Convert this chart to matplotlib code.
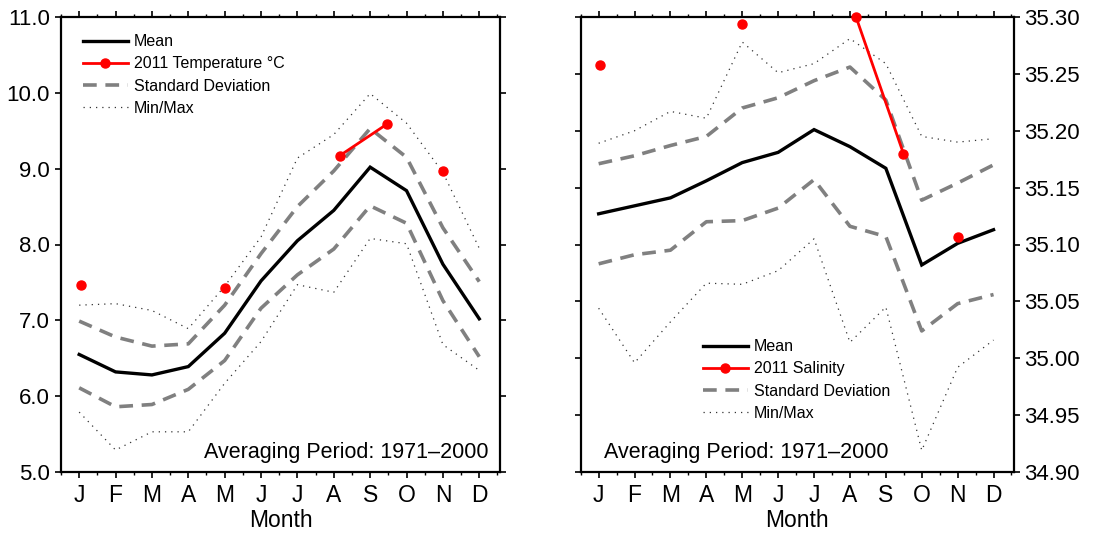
import matplotlib
matplotlib.use("Agg")
import matplotlib.pyplot as plt
from matplotlib.ticker import MultipleLocator, FormatStrFormatter

plt.rcParams['font.family'] = ['Liberation Sans', 'DejaVu Sans']

months = list(range(1, 13))
month_labels = ['J', 'F', 'M', 'A', 'M', 'J', 'J', 'A', 'S', 'O', 'N', 'D']

# Temperature (left panel)
temp_mean = [6.55, 6.32, 6.28, 6.39, 6.83, 7.52, 8.05, 8.45, 9.02, 8.71, 7.74, 7.02]
temp_sd_upper = [6.99, 6.78, 6.66, 6.69, 7.20, 7.88, 8.50, 8.97, 9.53, 9.15, 8.22, 7.51]
temp_sd_lower = [6.11, 5.86, 5.89, 6.09, 6.47, 7.16, 7.60, 7.94, 8.51, 8.28, 7.26, 6.52]
temp_max = [7.20, 7.22, 7.13, 6.89, 7.45, 8.10, 9.14, 9.45, 9.99, 9.60, 8.95, 7.95]
temp_min = [5.79, 5.29, 5.53, 5.53, 6.17, 6.72, 7.47, 7.37, 8.08, 8.01, 6.68, 6.34]
temp_2011_x = [1.05, 5.0, 8.16, 9.47, 11.0]
temp_2011 = [7.47, 7.42, 9.17, 9.59, 8.97]

# Salinity (right panel)
sal_mean = [35.127, 35.134, 35.141, 35.156, 35.172, 35.181, 35.201, 35.186, 35.167, 35.082, 35.101, 35.113]
sal_sd_upper = [35.171, 35.178, 35.187, 35.195, 35.220, 35.229, 35.244, 35.256, 35.227, 35.139, 35.154, 35.170]
sal_sd_lower = [35.083, 35.091, 35.095, 35.120, 35.121, 35.132, 35.157, 35.116, 35.107, 35.024, 35.048, 35.056]
sal_max = [35.189, 35.200, 35.217, 35.211, 35.278, 35.251, 35.259, 35.281, 35.259, 35.195, 35.190, 35.193]
sal_min = [35.044, 34.996, 35.032, 35.066, 35.065, 35.077, 35.105, 35.014, 35.045, 34.919, 34.992, 35.016]
sal_2011_x = [1.05, 5.0, 8.17, 9.49, 11.0]
sal_2011 = [35.258, 35.294, 35.300, 35.180, 35.107]

W, H = 1103, 534
fig = plt.figure(figsize=(W / 100, H / 100), dpi=100)

axL = fig.add_axes([61 / W, 1 - 472 / H, 439 / W, 455 / H])
axR = fig.add_axes([580.7 / W, 1 - 472 / H, 433.3 / W, 455 / H])

def split_runs(xs, ys):
    # observations in consecutive months are joined by a line
    runs, cur = [], [(xs[0], ys[0])]
    for x, y in zip(xs[1:], ys[1:]):
        if int(x) - int(cur[-1][0]) == 1:
            cur.append((x, y))
        else:
            runs.append(cur)
            cur = [(x, y)]
    runs.append(cur)
    return runs

DOT = (0, (1, 4))

def draw(ax, mean, up, lo, mx, mn, rx, ry, obs_label):
    ax.plot(months, mx, color='#333333', lw=0.9, linestyle=DOT)
    ax.plot(months, mn, color='#333333', lw=0.9, linestyle=DOT)
    ax.plot(months, up, color='#808080', lw=2.6, dashes=(3.8, 2.4))
    ax.plot(months, lo, color='#808080', lw=2.6, dashes=(3.8, 2.4))
    ax.plot(months, mean, color='black', lw=2.4, solid_joinstyle='miter')
    for run in split_runs(rx, ry):
        xs = [p[0] for p in run]
        ys = [p[1] for p in run]
        ax.plot(xs, ys, color='red', lw=2.0, marker='o', markersize=6.5,
                clip_on=False, zorder=5)
    h1, = ax.plot([], [], color='black', lw=2.4)
    h2, = ax.plot([], [], color='red', lw=2.0, marker='o', markersize=6.5)
    h3, = ax.plot([], [], color='#808080', lw=2.6, dashes=(3.8, 2.4))
    h4, = ax.plot([], [], color='#333333', lw=0.9, linestyle=DOT)
    return [h1, h2, h3, h4], ['Mean', obs_label, 'Standard Deviation', 'Min/Max']

def style(ax):
    ax.set_xlim(0.5, 12.57)
    ax.set_xticks(months)
    ax.set_xticklabels(month_labels)
    ax.xaxis.set_minor_locator(MultipleLocator(0.5))
    ax.tick_params(axis='x', which='both', top=True, bottom=True, direction='out')
    ax.tick_params(axis='y', which='both', left=True, right=True, direction='out')
    ax.tick_params(which='major', length=4, width=1.2, labelsize=16)
    ax.tick_params(which='minor', length=2.2, width=1.0)
    ax.tick_params(axis='x', which='major', pad=5, labelsize=16.5)
    for s in ax.spines.values():
        s.set_linewidth(1.6)
    ax.set_xlabel('Month', fontsize=16.5, labelpad=1)

LEG = dict(frameon=False, fontsize=11.5, handlelength=2.85, handletextpad=0.35,
           labelspacing=0.45, borderpad=0, borderaxespad=0, loc='upper left')

handles, labels = draw(axL, temp_mean, temp_sd_upper, temp_sd_lower, temp_max, temp_min,
                       temp_2011_x, temp_2011, '2011 Temperature \u00b0C')
style(axL)
axL.set_ylim(5.0, 11.0)
axL.yaxis.set_major_locator(MultipleLocator(1.0))
axL.yaxis.set_major_formatter(FormatStrFormatter('%.1f'))
axL.tick_params(axis='y', which='major', pad=4)
axL.legend(handles, labels, bbox_to_anchor=(0.049, 0.962), **LEG)
axL.text(0.973, 0.031, 'Averaging Period: 1971\u20132000', transform=axL.transAxes,
         ha='right', va='baseline', fontsize=15.5)

handles, labels = draw(axR, sal_mean, sal_sd_upper, sal_sd_lower, sal_max, sal_min,
                       sal_2011_x, sal_2011, '2011 Salinity')
style(axR)
axR.set_ylim(34.90, 35.30)
axR.yaxis.set_major_locator(MultipleLocator(0.05))
axR.yaxis.set_major_formatter(FormatStrFormatter('%.2f'))
axR.tick_params(axis='y', which='both', labelleft=False, labelright=True, pad=3)
axR.legend(handles, labels, bbox_to_anchor=(0.2816, 0.292), **LEG)
axR.text(0.054, 0.031, 'Averaging Period: 1971\u20132000', transform=axR.transAxes,
         ha='left', va='baseline', fontsize=15.5)

fig.savefig('out.png', dpi=100)
